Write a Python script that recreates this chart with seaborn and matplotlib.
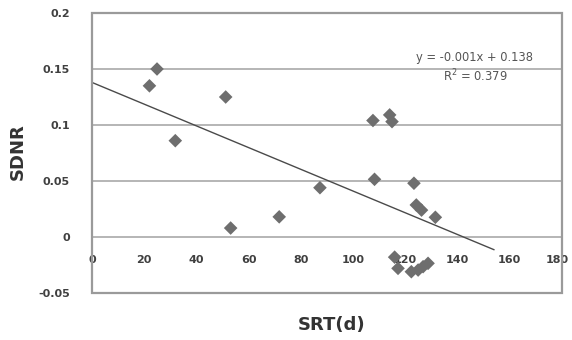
import matplotlib
matplotlib.use("Agg")
import matplotlib.pyplot as plt
import matplotlib.transforms as mtransforms
import seaborn as sns
import pandas as pd
from matplotlib.patches import Rectangle

srt = [22.0, 24.9, 31.9, 51.2, 53.1, 71.7, 87.3, 107.6, 108.2, 114.0, 114.9,
       115.9, 117.2, 122.3, 123.3, 124.2, 124.9, 126.2, 126.8, 128.7, 131.5]
sdnr = [0.135, 0.150, 0.086, 0.125, 0.008, 0.018, 0.044, 0.104, 0.0515, 0.109, 0.103,
        -0.018, -0.028, -0.031, 0.048, 0.0286, -0.0295, 0.024, -0.0265, -0.0235, 0.0176]
trend_slope = -0.00097
trend_intercept = 0.138
trend_x = [0, 154]
x_ticks = [0, 20, 40, 60, 80, 100, 120, 140, 160, 180]
y_ticks = [-0.05, 0, 0.05, 0.1, 0.15, 0.2]
y_tick_labels = ["-0.05", "0", "0.05", "0.1", "0.15", "0.2"]
eq_text = "y = -0.001x + 0.138"
r2_text = "R$^2$ = 0.379"

sns.set_style("white")
plt.rcParams['font.family'] = ['DejaVu Sans']

df = pd.DataFrame({"SRT": srt, "SDNR": sdnr})
trend_df = pd.DataFrame({"x": trend_x,
                         "y": [trend_intercept + trend_slope * v for v in trend_x]})

fig = plt.figure(figsize=(5.72, 3.4), dpi=100)
ax = fig.add_axes([92/572, 47/340, 470/572, 280/340])

for yv in y_ticks[1:]:
    ax.axhline(yv, color="#b5b5b5", lw=1.4, zorder=0)

sns.lineplot(data=trend_df, x="x", y="y", ax=ax, color="#4a4a4a", lw=1.0, zorder=2)
sns.scatterplot(data=df, x="SRT", y="SDNR", ax=ax, marker="D", s=48,
                color="#6e6e6e", edgecolor="none", zorder=3)

ax.set_xlim(0, 180)
ax.set_ylim(-0.05, 0.2)
ax.set_xticks(x_ticks)
ax.set_xticklabels([str(v) for v in x_ticks])
ax.set_yticks(y_ticks)
ax.set_yticklabels(y_tick_labels)

for s in ["top", "right", "left"]:
    ax.spines[s].set_visible(False)
ax.spines["bottom"].set_position(("data", 0))
ax.spines["bottom"].set_visible(False)
ax.add_patch(Rectangle((0, 0), 1, 1, transform=ax.transAxes, fill=False,
                       edgecolor="#9a9a9a", lw=1.6, zorder=4, clip_on=False))

ax.tick_params(axis="x", length=0, pad=13, labelsize=8, labelcolor="#404040")
ax.tick_params(axis="y", length=0, pad=16, labelsize=8, labelcolor="#404040")
for lab in ax.get_xticklabels() + ax.get_yticklabels():
    lab.set_fontweight("bold")
last = ax.get_xticklabels()[-1]
last.set_transform(last.get_transform() +
                   mtransforms.ScaledTranslation(-5/100, 0, fig.dpi_scale_trans))

ax.set_xlabel("")
ax.set_ylabel("")
fig.text(332/572, 1 - 325/340, "SRT(d)", ha="center", va="center",
         fontsize=13, fontweight="bold", color="#333333")
fig.text(18/572, 1 - 152/340, "SDNR", ha="center", va="center", rotation=90,
         fontsize=13, fontweight="bold", color="#333333")

ax.text(146.3, 0.1607, eq_text, ha="center", va="center", fontsize=8.3, color="#555555")
ax.text(146.7, 0.1437, r2_text, ha="center", va="center", fontsize=8.3, color="#555555")

fig.savefig("out.png", dpi=100)
